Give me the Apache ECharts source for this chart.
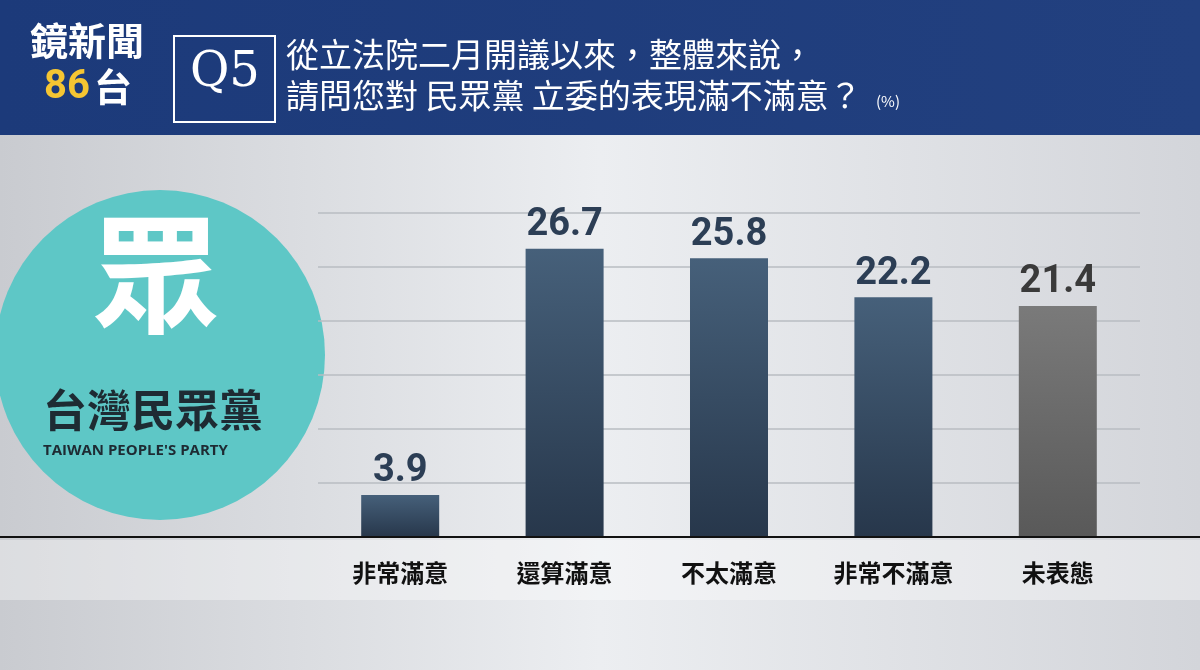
<!DOCTYPE html>
<html><head><meta charset="utf-8">
<script src="https://cdn.jsdelivr.net/npm/echarts@6/dist/echarts.min.js"></script>
<style>body{margin:0}#main{width:1200px;height:670px}</style>
</head><body><div id="main"></div>
<script>
var categories = ['非常滿意', '還算滿意', '不太滿意', '非常不滿意', '未表態'];
var values = [3.9, 26.7, 25.8, 22.2, 21.4];
var font = '"Noto Sans CJK TC", sans-serif';

var chart = echarts.init(document.getElementById('main'));
var blueBar = new echarts.graphic.LinearGradient(0, 0, 0, 1, [{offset: 0, color: '#46607a'}, {offset: 1, color: '#27374b'}]);
var grayBar = new echarts.graphic.LinearGradient(0, 0, 0, 1, [{offset: 0, color: '#7a7a7a'}, {offset: 1, color: '#595959'}]);

chart.setOption({
  backgroundColor: new echarts.graphic.LinearGradient(0, 0, 1, 0, [{offset: 0, color: '#c9cbd0'}, {offset: 0.5, color: '#eceef1'}, {offset: 1, color: '#d3d5da'}]),
  grid: {left: 318, right: 60, top: 213, bottom: 133},
  xAxis: {
    type: 'category', data: categories,
    axisLine: {show: false}, axisTick: {show: false},
    axisLabel: {color: '#111', fontSize: 24, fontWeight: 'bold', fontFamily: font, margin: 24}
  },
  yAxis: {
    type: 'value', min: 0, max: 30, interval: 5,
    axisLabel: {show: false},
    splitLine: {lineStyle: {color: '#b9bcc2', width: 1.5}}
  },
  series: [{
    type: 'bar', barWidth: 78,
    data: values.map(function (v, i) {
      return {value: v, itemStyle: {color: i === 4 ? grayBar : blueBar},
        label: {color: i === 4 ? '#3a3a3a' : '#2c3e55'}};
    }),
    label: {show: true, position: 'top', fontSize: 38, fontWeight: 'bold', fontFamily: 'Roboto, sans-serif', distance: 4}
  }],
  graphic: [
    {type: 'rect', shape: {x: 0, y: 540, width: 1200, height: 60}, style: {fill: 'rgba(255,255,255,0.35)'}, z: -1},
    {type: 'line', shape: {x1: 0, y1: 537, x2: 1200, y2: 537}, style: {stroke: '#111', lineWidth: 2}, z: 10},
    {type: 'rect', shape: {x: 0, y: 0, width: 1200, height: 135},
      style: {fill: new echarts.graphic.LinearGradient(0, 0, 1, 0, [{offset: 0, color: '#1c3a7a'}, {offset: 1, color: '#22407f'}])}},
    {type: 'text', left: 30, top: 22, style: {text: '鏡新聞', fill: '#fff', font: 'bold 38px ' + font}},
    {type: 'text', left: 44, top: 68, style: {text: '86', fill: '#f5c532', font: 'bold 40px Roboto'}},
    {type: 'text', left: 94, top: 68, style: {text: '台', fill: '#fff', font: 'bold 38px ' + font}},
    {type: 'rect', shape: {x: 174, y: 36, width: 101, height: 86}, style: {fill: 'none', stroke: '#fff', lineWidth: 2}},
    {type: 'text', left: 190, top: 50, style: {text: 'Q5', fill: '#fff', font: '48px "DejaVu Serif", serif'}},
    {type: 'text', left: 286, top: 38, style: {text: '從立法院二月開議以來，整體來說，', fill: '#fff', font: '33px ' + font}},
    {type: 'text', left: 286, top: 79, style: {text: '請問您對 民眾黨 立委的表現滿不滿意？', fill: '#fff', font: '33px ' + font}},
    {type: 'text', left: 876, top: 94, style: {text: '(%)', fill: '#fff', font: '15px ' + font}},
    {type: 'circle', shape: {cx: 160, cy: 355, r: 165}, style: {fill: '#5ec7c6'}},
    {type: 'text', left: 92, top: 210, style: {text: '眾', fill: '#fff', font: 'bold 128px ' + font}},
    {type: 'text', left: 43, top: 388, style: {text: '台灣民眾黨', fill: '#1e2b33', font: 'bold 44px ' + font}},
    {type: 'text', left: 43, top: 443, style: {text: "TAIWAN PEOPLE'S PARTY", fill: '#1e2b33', font: 'bold 15px "Open Sans", sans-serif'}}
  ]
});
</script></body></html>
